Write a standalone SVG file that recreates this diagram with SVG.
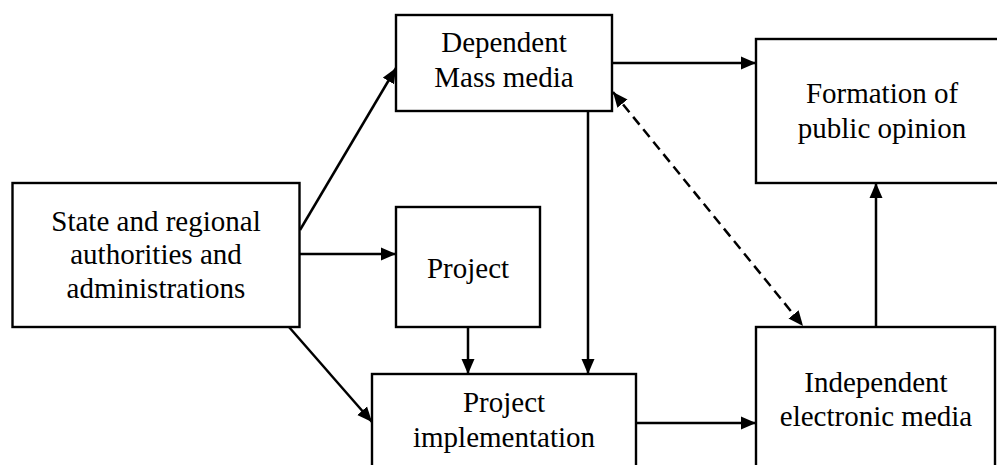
<svg xmlns="http://www.w3.org/2000/svg" width="997" height="465" viewBox="0 0 997 465">
<style>
.box{fill:#fff;stroke:#000;stroke-width:2.4}
.lbl{font-family:"Liberation Serif","Times New Roman",serif;font-size:29px;fill:#000;text-anchor:middle}
.ln{stroke:#000;stroke-width:2.5;fill:none}
.dash{stroke-dasharray:10 6}
</style>
<defs>
<marker id="ah" markerUnits="userSpaceOnUse" markerWidth="16" markerHeight="14" refX="15" refY="6.5" orient="auto-start-reverse" viewBox="0 0 16 13">
<path d="M0,0 L15,6.5 L0,13 z" fill="#000"/>
</marker>
</defs>
<rect width="997" height="465" fill="#fff"/>
<g id="connectors">
<line class="ln" x1="300" y1="230" x2="396" y2="68" marker-end="url(#ah)"/>
<line class="ln" x1="300" y1="254" x2="396" y2="254" marker-end="url(#ah)"/>
<line class="ln" x1="289" y1="327" x2="372" y2="422" marker-end="url(#ah)"/>
<line class="ln" x1="468" y1="327" x2="468" y2="374" marker-end="url(#ah)"/>
<line class="ln" x1="588" y1="111" x2="588" y2="374" marker-end="url(#ah)"/>
<line class="ln" x1="612" y1="63" x2="756" y2="63" marker-end="url(#ah)"/>
<line class="ln dash" x1="613" y1="92" x2="803" y2="326" marker-start="url(#ah)" marker-end="url(#ah)"/>
<line class="ln" x1="636" y1="423" x2="756" y2="423" marker-end="url(#ah)"/>
<line class="ln" x1="876" y1="327" x2="876" y2="183" marker-end="url(#ah)"/>
</g>
<g id="state">
<rect class="box" x="12.5" y="183" width="287" height="144"/>
<text class="lbl" x="156" y="231">State and regional</text>
<text class="lbl" x="156" y="264">authorities and</text>
<text class="lbl" x="156" y="298">administrations</text>
</g>
<g id="dependent">
<rect class="box" x="396" y="15" width="216" height="96"/>
<text class="lbl" x="504" y="52">Dependent</text>
<text class="lbl" x="504" y="87">Mass media</text>
</g>
<g id="project">
<rect class="box" x="396" y="207" width="144" height="120"/>
<text class="lbl" x="468" y="278">Project</text>
</g>
<g id="implementation">
<rect class="box" x="372" y="374" width="264" height="120"/>
<text class="lbl" x="504" y="412">Project</text>
<text class="lbl" x="504" y="447">implementation</text>
</g>
<g id="formation">
<rect class="box" x="756" y="39" width="260" height="144"/>
<text class="lbl" x="882" y="103">Formation of</text>
<text class="lbl" x="882" y="138">public opinion</text>
</g>
<g id="independent">
<rect class="box" x="756" y="327" width="239" height="160"/>
<text class="lbl" x="876" y="392">Independent</text>
<text class="lbl" x="876" y="426">electronic media</text>
</g>
</svg>
